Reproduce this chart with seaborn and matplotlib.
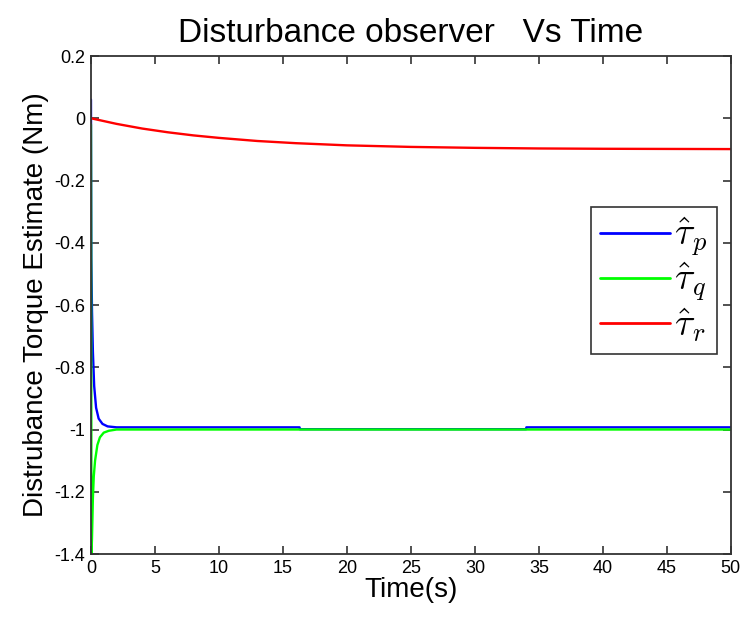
import numpy as np
import pandas as pd
import matplotlib
matplotlib.use("Agg")
import matplotlib.pyplot as plt
import seaborn as sns

# Disturbance torque estimates (Nm) over time (s)
t_p = [0, 0.005, 0.03, 0.08, 0.15, 0.25, 0.4, 0.6, 0.9, 1.3, 2.0, 16.3, 16.32, 34.0, 34.02, 50]
tau_p = [0.06, -0.05, -0.45, -0.62, -0.75, -0.86, -0.93, -0.965, -0.982, -0.99, -0.993,
         -0.993, -0.999, -0.999, -0.993, -0.993]

t_q = [0, 0.04, 0.08, 0.15, 0.22, 0.32, 0.5, 0.7, 1.0, 1.4, 2.0, 50]
tau_q = [-0.02, -1.4, -1.35, -1.22, -1.15, -1.10, -1.05, -1.025, -1.01, -1.004, -1.0, -1.0]

t_r = [0, 2, 4, 6, 8, 10, 13, 16, 20, 25, 30, 35, 40, 50]
tau_r = [0, -0.018, -0.033, -0.045, -0.055, -0.063, -0.073, -0.080, -0.087, -0.092,
         -0.095, -0.097, -0.098, -0.099]

labels = [r"$\hat{\tau}_p$", r"$\hat{\tau}_q$", r"$\hat{\tau}_r$"]
colors = ["#0000ff", "#00ff00", "#ff0000"]

x_ticks = list(range(0, 51, 5))
y_ticks = [0.2, 0, -0.2, -0.4, -0.6, -0.8, -1, -1.2, -1.4]
y_tick_labels = ["0.2", "0", "-0.2", "-0.4", "-0.6", "-0.8", "-1", "-1.2", "-1.4"]

df = pd.concat([
    pd.DataFrame({"t": t_p, "v": tau_p, "s": labels[0]}),
    pd.DataFrame({"t": t_q, "v": tau_q, "s": labels[1]}),
    pd.DataFrame({"t": t_r, "v": tau_r, "s": labels[2]}),
], ignore_index=True)

sns.set_theme(style="ticks")
plt.rcParams["font.family"] = ["Liberation Sans", "DejaVu Sans"]
plt.rcParams["mathtext.fontset"] = "cm"
plt.rcParams["text.color"] = "black"
plt.rcParams["axes.labelcolor"] = "black"

fig = plt.figure(figsize=(7.42, 6.26), dpi=100)
ax = fig.add_axes([0.1226, 0.115, 0.8624, 0.7955])

sns.lineplot(data=df, x="t", y="v", hue="s", palette=dict(zip(labels, colors)),
             sort=False, estimator=None, linewidth=1.7, ax=ax)

ax.set_xlim(0, 50)
ax.set_ylim(-1.4, 0.2)
ax.set_xticks(x_ticks)
ax.set_xticklabels([str(v) for v in x_ticks])
ax.set_yticks(y_ticks)
ax.set_yticklabels(y_tick_labels)
ax.tick_params(direction="in", length=6, width=1.2, top=True, right=True,
               labelsize=13, color="#333333", labelcolor="black", pad=4)
for sp in ax.spines.values():
    sp.set_visible(True)
    sp.set_color("#333333")
    sp.set_linewidth(1.3)

ax.set_xlabel("Time(s)", fontsize=20, labelpad=0)
ax.set_ylabel("Distrubance Torque Estimate (Nm)", fontsize=20, labelpad=4)
ax.set_title("Disturbance observer   Vs Time", fontsize=24, pad=10)

leg = ax.legend(loc="upper right", bbox_to_anchor=(0.978, 0.697), borderaxespad=0,
                fontsize=27, handlelength=1.85, frameon=True, fancybox=False,
                edgecolor="#333333", framealpha=1, borderpad=0.25, labelspacing=0.05,
                handletextpad=0.12, title=None)
leg.get_frame().set_linewidth(1.2)
for line in leg.get_lines():
    line.set_linewidth(2.0)

fig.savefig("out.png", dpi=100, facecolor="white")
